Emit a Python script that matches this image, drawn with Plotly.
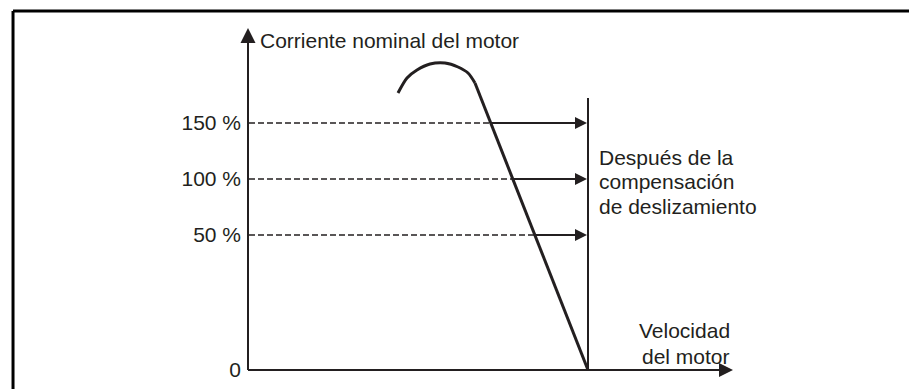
import plotly.graph_objects as go

# Schematic: motor current vs speed, after slip compensation.
# Units are drawing units (roughly pixels of the original diagram), origin at the axes corner.

LEVEL_LABELS = ["0", "50 %", "100 %", "150 %"]
LEVEL_Y = [0, 135, 191, 247]

# where each dashed reference level meets the falling line (50, 100, 150 %)
ARROW_LEVELS_Y = [135, 191, 247]
CROSS_X = [287, 265, 243]

# current curve: hump then straight drop to the compensated speed
HUMP_X = [150, 159, 169, 182, 197, 210, 220, 227]
HUMP_Y = [277, 292, 300, 306, 307, 303, 297, 287]
DROP_X = [227, 340]
DROP_Y = [287, 0]

COMP_X = 340          # compensated speed line
COMP_TOP = 272
X_AXIS_END = 485
Y_AXIS_END = 342

NOTE_LINES = ["Después de la", "compensación", "de deslizamiento"]
SPEED_LINES = ["Velocidad", "del motor"]

INK = "#231f20"
FONT = "Liberation Sans, Arial, sans-serif"

fig = go.Figure()

# axes with arrow tips
fig.add_trace(go.Scatter(x=[0, X_AXIS_END - 6], y=[0, 0], mode="lines",
                         line=dict(color=INK, width=2), hoverinfo="skip"))
fig.add_trace(go.Scatter(x=[0, 0], y=[0, Y_AXIS_END - 6], mode="lines",
                         line=dict(color=INK, width=2), hoverinfo="skip"))
fig.add_trace(go.Scatter(x=[X_AXIS_END], y=[0], mode="markers", cliponaxis=False,
                         marker=dict(symbol="arrow-right", size=14, color=INK),
                         hoverinfo="skip"))
fig.add_trace(go.Scatter(x=[0], y=[Y_AXIS_END], mode="markers", cliponaxis=False,
                         marker=dict(symbol="arrow-up", size=15, color=INK),
                         hoverinfo="skip"))

# dashed levels up to the drop line, then solid arrows to the compensated speed
for y, cx in zip(ARROW_LEVELS_Y, CROSS_X):
    fig.add_trace(go.Scatter(x=[1, cx], y=[y, y], mode="lines",
                             line=dict(color=INK, width=1.6, dash="6px,3px"),
                             hoverinfo="skip"))
    fig.add_trace(go.Scatter(x=[cx, COMP_X - 8], y=[y, y], mode="lines",
                             line=dict(color=INK, width=1.8), hoverinfo="skip"))
    fig.add_trace(go.Scatter(x=[COMP_X - 1], y=[y], mode="markers", cliponaxis=False,
                             marker=dict(symbol="arrow-right", size=12, color=INK),
                             hoverinfo="skip"))

# vertical line: speed after slip compensation
fig.add_trace(go.Scatter(x=[COMP_X, COMP_X], y=[0, COMP_TOP], mode="lines",
                         line=dict(color=INK, width=2), hoverinfo="skip"))

# curve
fig.add_trace(go.Scatter(x=HUMP_X, y=HUMP_Y, mode="lines",
                         line=dict(color=INK, width=3, shape="spline", smoothing=0.8),
                         hoverinfo="skip"))
fig.add_trace(go.Scatter(x=DROP_X, y=DROP_Y, mode="lines",
                         line=dict(color=INK, width=3), hoverinfo="skip"))

txt = dict(family=FONT, size=21, color=INK)
fig.add_annotation(x=10, y=330, text="Corriente nominal del motor", showarrow=False,
                   xanchor="left", yanchor="middle", font=txt)
for i, line in enumerate(NOTE_LINES):
    fig.add_annotation(x=349, y=213 - 24.5 * i, text=line, showarrow=False,
                       xanchor="left", yanchor="middle", font=txt)
for i, line in enumerate(SPEED_LINES):
    fig.add_annotation(x=484, y=40 - 26 * i, text=line, showarrow=False,
                       xanchor="right", yanchor="middle", font=txt)

# outer frame (only the top and left edges are visible in the crop)
frame = dict(color="#000000", width=3)
fig.add_shape(type="line", xref="paper", yref="paper",
              x0=-0.3432, x1=1.02, y0=0.9918, y1=0.9918, line=frame)
fig.add_shape(type="line", xref="paper", yref="paper",
              x0=-0.3432, x1=-0.3432, y0=0.9918, y1=-0.06, line=frame)

fig.update_xaxes(range=[-4, 669], showgrid=False, zeroline=False, showline=False,
                 showticklabels=False, ticks="")
fig.update_yaxes(range=[-4, 362], showgrid=False, zeroline=False, showline=False,
                 tickmode="array", tickvals=LEVEL_Y, ticktext=LEVEL_LABELS,
                 ticks="", tickfont=txt, ticklabelstandoff=2)

# the page body adds an 8px offset, so the figure is 8px smaller than the window
fig.update_layout(
    width=909, height=381,
    margin=dict(l=236, r=0, t=0, b=15),
    paper_bgcolor="white", plot_bgcolor="white",
    showlegend=False,
    font=dict(family=FONT, color=INK),
)

fig.write_html("out.html", config={"displayModeBar": False})
